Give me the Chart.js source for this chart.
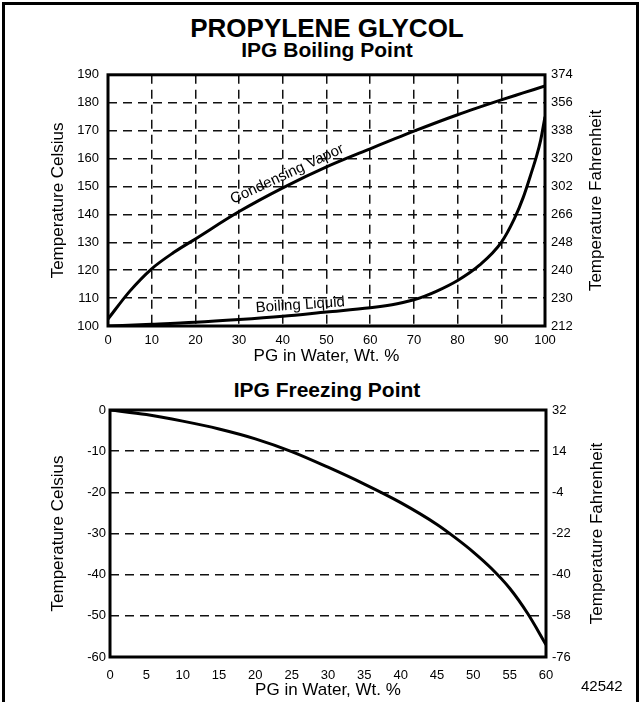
<!DOCTYPE html>
<html>
<head>
<meta charset="utf-8">
<script src="https://cdn.jsdelivr.net/npm/chart.js@4"></script>
<style>
body{margin:0;background:#fff;font-family:"Liberation Sans",Arial,sans-serif}
#page{position:relative;width:641px;height:702px;overflow:hidden}
#frame{position:absolute;left:2px;top:2px;width:631px;height:710px;border:3px solid #000}
.t{position:absolute;left:108px;width:438px;text-align:center;font-weight:bold;color:#000;white-space:nowrap}
.box{position:absolute;left:0;width:641px}
#code{position:absolute;left:581px;top:677px;font-size:15px;color:#000}
</style>
</head>
<body>
<div id="page">
<div id="frame"></div>
<div class="t" style="top:13px;font-size:26px;line-height:30px">PROPYLENE GLYCOL</div>
<div class="t" style="top:38px;font-size:21px;line-height:24px">IPG Boiling Point</div>
<div class="t" style="top:378px;font-size:21px;line-height:24px">IPG Freezing Point</div>
<div class="box" style="top:58px;height:312px"><canvas id="boil"></canvas></div>
<div class="box" style="top:396px;height:306px"><canvas id="freeze"></canvas></div>
<div id="code">42542</div>
</div>
<script>
// boiling point chart
const vaporX=[0,5,10,15,20,30,40,50,60,70,80,90,95,100]
const vaporC=[102.5,112.5,120.5,126.3,131.2,141,149.5,157,163.5,169.8,175.7,181,183.5,186]
const liquidX=[0,10,20,30,40,50,60,65,67.5,70,72.5,75,80,85,90,93,95,97,98,99,100]
const liquidC=[100,100.6,101.3,102.3,103.5,105,106.5,107.6,108.4,109.4,110.7,112.3,116.3,121.8,130,138.5,146,155.5,160.5,166.5,175]
const boilTicksF=['212','230','240','248','266','302','320','338','356','374']

// freezing point chart
const freezeX=[0,5,10,15,20,25,30,35,40,45,47.5,50,52.5,55,57.5,60]
const freezeC=[0,-1.1,-2.7,-4.6,-7,-10.1,-13.9,-18,-22.5,-27.8,-31,-34.5,-38.5,-43.3,-49.5,-57]
const freezeTicksF=['-76','-58','-40','-22','-4','14','32']

const FONT='"Liberation Sans", Arial, sans-serif'
Chart.defaults.font.family=FONT
Chart.defaults.color='#000'

const pts=(xs,ys)=>xs.map((x,i)=>({x:x,y:ys[i]}))

const frame={id:'frame',afterDraw(ch){
const a=ch.chartArea,g=ch.ctx
g.save();g.strokeStyle='#000';g.lineWidth=3
g.strokeRect(a.left,a.top,a.right-a.left,a.bottom-a.top)
g.fillStyle='#000';g.font='17px '+FONT;g.textAlign='center';g.textBaseline='middle'
g.translate(a.right+51,(a.top+a.bottom)/2);g.rotate(-Math.PI/2)
g.fillText('Temperature Fahrenheit',0,0)
g.restore()
}}

const notes={id:'notes',afterDatasetsDraw(ch,args,opts){
if(!opts.items)return
const g=ch.ctx
opts.items.forEach(n=>{
g.save();g.fillStyle='#000';g.font='15px '+FONT;g.textAlign='center';g.textBaseline='middle'
g.translate(ch.scales.x.getPixelForValue(n.x),ch.scales.y.getPixelForValue(n.y))
g.rotate(n.angle*Math.PI/180);g.fillText(n.text,0,0);g.restore()
})
}}

const dash={color:'#111',lineWidth:1.5,drawTicks:false}
const dashBorder={display:false,dash:[9,6]}
const line={borderColor:'#000',borderWidth:3,pointRadius:0,fill:false,cubicInterpolationMode:'monotone'}

new Chart(document.getElementById('boil'),{
type:'line',
data:{datasets:[
Object.assign({label:'Condensing Vapor',data:pts(vaporX,vaporC)},line),
Object.assign({label:'Boiling Liquid',data:pts(liquidX,liquidC)},line)
]},
options:{animation:false,responsive:true,maintainAspectRatio:false,
layout:{padding:{top:16,left:0,right:0,bottom:0}},
plugins:{legend:{display:false},tooltip:{enabled:false},
notes:{items:[{text:'Condensing Vapor',x:41,y:154.4,angle:-25},{text:'Boiling Liquid',x:44,y:107.5,angle:-4}]}},
scales:{
x:{type:'linear',min:0,max:100,ticks:{stepSize:10,padding:7,font:{size:13}},grid:dash,border:dashBorder,
title:{display:true,text:'PG in Water, Wt. %',font:{size:17},padding:{top:0,bottom:3}},
afterFit(s){s.height=44}},
y:{min:100,max:190,ticks:{stepSize:10,padding:9,font:{size:13}},grid:dash,border:dashBorder,
title:{display:true,text:'Temperature Celsius',font:{size:17},padding:{top:48,bottom:0}},
afterFit(s){s.width=108}},
y2:{position:'right',min:100,max:190,ticks:{stepSize:10,padding:6,font:{size:13},callback:v=>boilTicksF[Math.round((v-100)/10)]},
grid:{drawOnChartArea:false,drawTicks:false},border:{display:false},afterFit(s){s.width=96}}
}},
plugins:[frame,notes]
})

new Chart(document.getElementById('freeze'),{
type:'line',
data:{datasets:[Object.assign({label:'Freezing Point',data:pts(freezeX,freezeC)},line)]},
options:{animation:false,responsive:true,maintainAspectRatio:false,
layout:{padding:{top:14,left:0,right:0,bottom:0}},
plugins:{legend:{display:false},tooltip:{enabled:false}},
scales:{
x:{type:'linear',min:0,max:60,ticks:{stepSize:5,padding:3,font:{size:13}},grid:{display:false},border:{display:false},
title:{display:true,text:'PG in Water, Wt. %',font:{size:17},padding:{top:0,bottom:1}},
afterFit(s){s.height=45}},
y:{min:-60,max:0,ticks:{stepSize:10,padding:4,font:{size:13}},
grid:Object.assign({},dash,{color:c=>(c.tick&&(c.tick.value===0||c.tick.value===-60))?'rgba(0,0,0,0)':'#111'}),border:dashBorder,
title:{display:true,text:'Temperature Celsius',font:{size:17},padding:{top:48,bottom:0}},
afterFit(s){s.width=110}},
y2:{position:'right',min:-60,max:0,ticks:{stepSize:10,padding:6,font:{size:13},callback:v=>freezeTicksF[Math.round((v+60)/10)]},
grid:{drawOnChartArea:false,drawTicks:false},border:{display:false},afterFit(s){s.width=95}}
}},
plugins:[frame]
})
</script>
</body>
</html>
